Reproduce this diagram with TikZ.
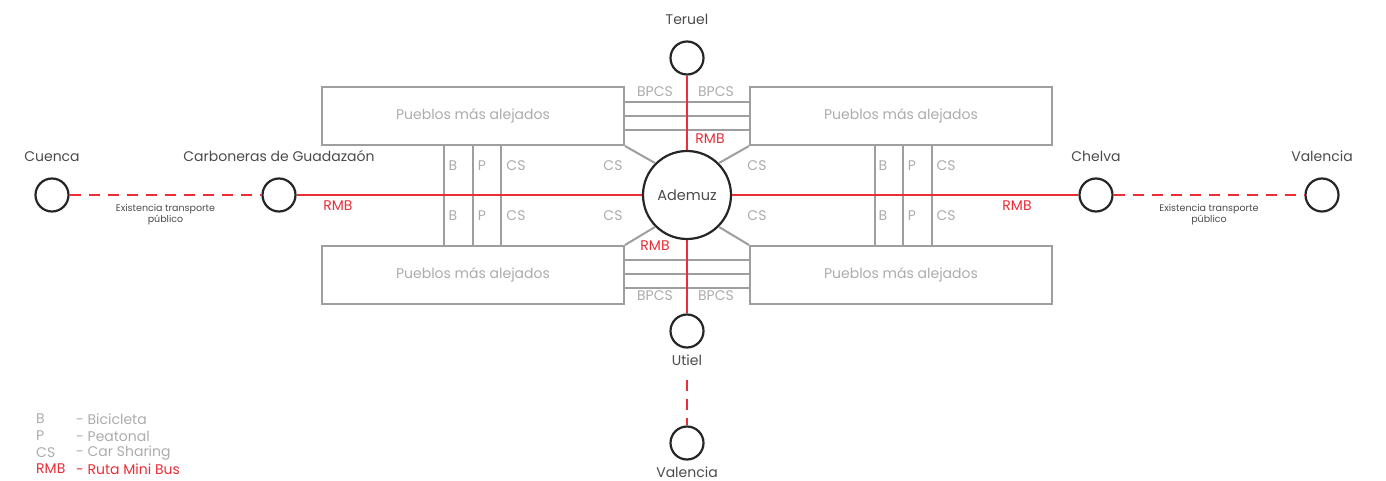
\documentclass[tikz,border=0pt]{standalone}
\usepackage{fontspec}
\setmainfont{Poppins}
\usetikzlibrary{positioning}
\definecolor{rojo}{RGB}{235,45,55}
\definecolor{gris}{RGB}{158,158,158}
\definecolor{grisclaro}{RGB}{172,172,172}
\definecolor{oscuro}{RGB}{38,38,38}
\definecolor{texto}{RGB}{75,75,75}
\tikzset{
pueblo/.style={
	draw=oscuro, line width=2.2pt, circle, inner sep=0pt, minimum size=33pt},
zona/.style={
	draw=gris, line width=2pt, minimum width=302pt, minimum height=58pt,
	text=grisclaro, font=\fontsize{14}{16}\selectfont},
ruta/.style={rojo, line width=2pt},
rutaext/.style={rojo, line width=2pt, dash pattern=on 11pt off 8pt},
carril/.style={gris, line width=2pt},
etq/.style={text=grisclaro, inner sep=0pt, font=\fontsize{14}{16}\selectfont},
etqroja/.style={text=rojo, inner sep=0pt, font=\fontsize{14}{16}\selectfont},
nota/.style={text=texto, inner sep=0pt, align=center,
	font=\fontsize{9.5}{11}\selectfont},
ciudad/.style={text=texto, inner sep=0pt, font=\fontsize{14}{16}\selectfont}
}

\begin{document}
\begin{tikzpicture}[x=1pt, y=-1pt]
	\useasboundingbox (0,0) rectangle (1386,481);
	\node[zona] (boxNW) at (473,116) {Pueblos más alejados};
	\node[zona] (boxNE) at (901,116) {Pueblos más alejados};
	\node[zona] (boxSW) at (473,275) {Pueblos más alejados};
	\node[zona] (boxSE) at (901,275) {Pueblos más alejados};
	\node[pueblo, minimum size=88pt, font=\fontsize{14.5}{16}\selectfont,
		text=texto] (ademuz) at (687,195) {Ademuz};
	\node[pueblo, label={[ciudad, label distance=16pt]above:Teruel}]
		(teruel) at (687,58) {};
	\node[pueblo, label={[ciudad, label distance=6pt]below:Utiel}]
		(utiel) at (687,331) {};
	\node[pueblo, label={[ciudad, label distance=6pt]below:Valencia}]
		(valS) at (687,443) {};
	\node[pueblo, label={[ciudad, label distance=16pt]above:Cuenca}]
		(cuenca) at (52,195) {};
	\node[pueblo, label={[ciudad, label distance=16pt]above:Carboneras de Guadazaón}]
		(carb) at (279,195) {};
	\node[pueblo, label={[ciudad, label distance=16pt]above:Chelva}]
		(chelva) at (1096,195) {};
	\node[pueblo, label={[ciudad, label distance=16pt]above:Valencia}]
		(valE) at (1322,195) {};
	\coordinate (bajada) at (687,380);

	\foreach \y in {102,116,130}
		\draw[carril] (boxNW.east |- 0,\y) -- (boxNE.west |- 0,\y);
	\foreach \y in {260,274,288}
		\draw[carril] (boxSW.east |- 0,\y) -- (boxSE.west |- 0,\y);
	\foreach \x in {444,473,501}
		\draw[carril] (\x,0 |- boxNW.south) -- (\x,0 |- boxSW.north);
	\foreach \x in {875,903,932}
		\draw[carril] (\x,0 |- boxNE.south) -- (\x,0 |- boxSE.north);
	\draw[carril] (boxNW.south east) -- (ademuz.135);
	\draw[carril] (boxNE.south west) -- (ademuz.45);
	\draw[carril] (boxSW.north east) -- (ademuz.225);
	\draw[carril] (boxSE.north west) -- (ademuz.315);

	\draw[ruta] (carb) -- (ademuz);
	\draw[ruta] (ademuz) -- (chelva);
	\draw[ruta] (ademuz) -- (teruel);
	\draw[ruta] (ademuz) -- (utiel);
	\draw[rutaext] (cuenca) -- node[nota, below=8pt] (notaO)
		{Existencia transporte\\público} (carb);
	\draw[rutaext] (chelva) -- node[nota, below=8pt] (notaE)
		{Existencia transporte\\público} (valE);
	\draw[rutaext] (bajada) -- (valS);

	\node[etqroja] (rmbO) at (338,206) {RMB};
	\node[etqroja] (rmbE) at (1017,206) {RMB};
	\node[etqroja] (rmbN) at (710,139) {RMB};
	\node[etqroja] (rmbS) at (655,246) {RMB};
	\node[etq] (bpNW) at (655,92) {BPCS};
	\node[etq] (bpNE) at (716,92) {BPCS};
	\node[etq] (bpSW) at (655,296) {BPCS};
	\node[etq] (bpSE) at (716,296) {BPCS};
	\foreach \y/\n in {166/a,216/b} {
		\node[etq] (csO\n) at (613,\y) {CS};
		\node[etq] (csE\n) at (757,\y) {CS};
		\node[etq] (bO\n) at (453,\y) {B};
		\node[etq] (pO\n) at (482,\y) {P};
		\node[etq] (cO\n) at (516,\y) {CS};
		\node[etq] (bE\n) at (883,\y) {B};
		\node[etq] (pE\n) at (912,\y) {P};
		\node[etq] (cE\n) at (946,\y) {CS};
	}

	\node[etq, anchor=west] (leyB) at (36,419) {B};
	\node[etq, anchor=west] (leyBt) at (76,419) {- Bicicleta};
	\node[etq, anchor=west] (leyP) at (36,436) {P};
	\node[etq, anchor=west] (leyPt) at (76,436) {- Peatonal};
	\node[etq, anchor=west] (leyC) at (36,453) {CS};
	\node[etq, anchor=west] (leyCt) at (76,453) {- Car Sharing};
	\node[etqroja, anchor=west] (leyR) at (36,469) {RMB};
	\node[etqroja, anchor=west] (leyRt) at (76,469) {- Ruta Mini Bus};
\end{tikzpicture}
\end{document}
